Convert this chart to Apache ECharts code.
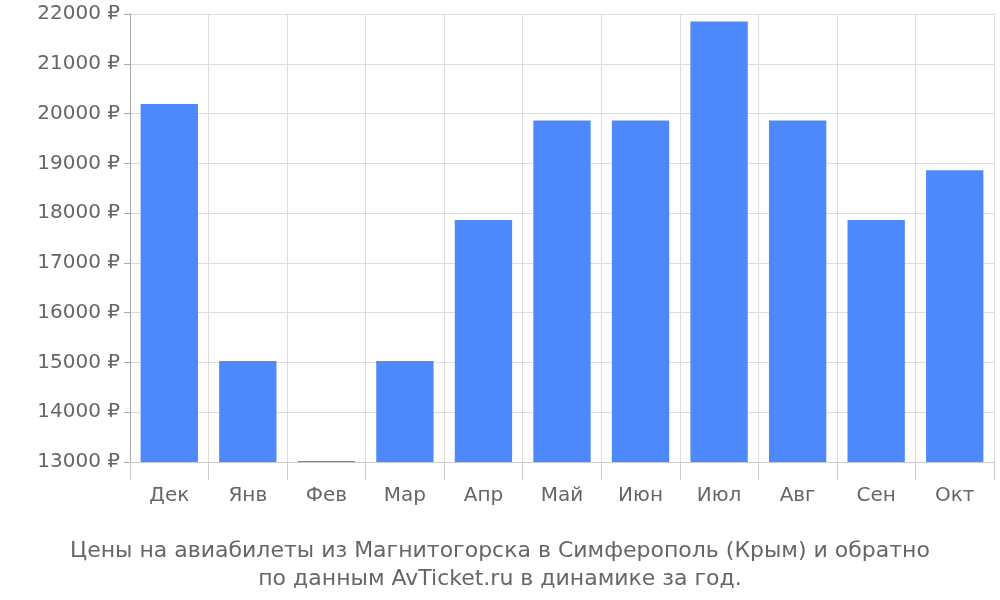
<!DOCTYPE html>
<html><head><meta charset="utf-8">
<script src="https://cdn.jsdelivr.net/npm/echarts@6/dist/echarts.min.js"></script>
<style>html,body{margin:0;padding:0;background:#fff}#c{width:1000px;height:600px}</style>
</head><body><div id="c"></div>
<script>
const categories = ['Дек','Янв','Фев','Мар','Апр','Май','Июн','Июл','Авг','Сен','Окт'];
const prices = [20190, 15030, 13020, 15030, 17860, 19860, 19860, 21850, 19860, 17860, 18860];
const titleLines = ['Цены на авиабилеты из Магнитогорска в Симферополь (Крым) и обратно','по данным AvTicket.ru в динамике за год.'];
const chart = echarts.init(document.getElementById('c'));
chart.setOption({
  animation:false,
  textStyle:{fontFamily:'DejaVu Sans'},
  title:{text:titleLines.join('\n'),left:'center',top:532,textStyle:{color:'#666',fontSize:22,fontWeight:'normal',lineHeight:28,fontFamily:'DejaVu Sans'}},
  grid:{left:130,right:6,top:14,bottom:138},
  xAxis:{type:'category',data:categories,
    axisLine:{show:true,lineStyle:{color:'#ccc'}},
    axisTick:{show:true,length:18,lineStyle:{color:'#ccc'}},
    splitLine:{show:true,lineStyle:{color:'#ddd'}},
    axisLabel:{color:'#666',fontSize:20,margin:24}},
  yAxis:{type:'value',min:13000,max:22000,interval:1000,
    axisLine:{show:true,lineStyle:{color:'#aaa'}},
    axisTick:{show:true,length:6,lineStyle:{color:'#aaa'}},
    splitLine:{lineStyle:{color:'#ddd'}},
    axisLabel:{color:'#666',fontSize:20,margin:10,formatter:v=>v+' ₽'}},
  series:[{type:'bar',data:prices,barCategoryGap:'27%',itemStyle:{color:'#4d88fc'}}]
});
</script></body></html>
